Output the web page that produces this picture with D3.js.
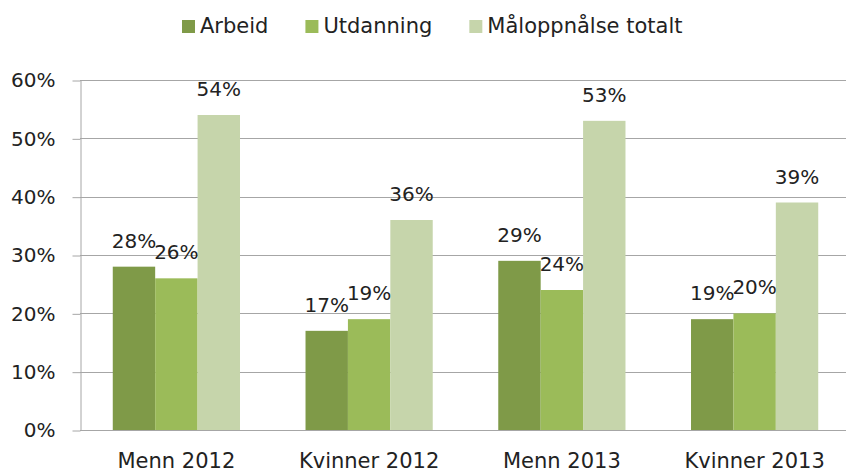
<!DOCTYPE html>
<html lang="no">
<head>
    <meta charset="UTF-8">
    <title>Måloppnålse</title>
    <script src="https://d3js.org/d3.v7.min.js"></script>
    <style>
        body {margin: 0; background: #fff;}
        text {font-family: "DejaVu Sans", sans-serif; fill: #222;}
        .grid line {stroke: #a6a6a6; stroke-width: 1px;}
    </style>
</head>
<body>
<script>
    const width  = 846;
    const height = 474;

    const categories = ["Menn 2012", "Kvinner 2012", "Menn 2013", "Kvinner 2013"];
    const seriesNames = ["Arbeid", "Utdanning", "Måloppnålse totalt"];
    const arbeid = [0.28, 0.17, 0.29, 0.19];
    const utdanning = [0.26, 0.19, 0.24, 0.20];
    const maloppnaelse = [0.54, 0.36, 0.53, 0.39];
    const yTicks = [0, 0.1, 0.2, 0.3, 0.4, 0.5, 0.6];
    const colors = ["#7f9a48", "#9bbb59", "#c6d5ab"];

    const series = [arbeid, utdanning, maloppnaelse];

    const plotLeft = 80, plotRight = 851, plotTop = 80, plotBottom = 430;

    const scaleX = d3.scaleBand()
        .domain(categories)
        .range([plotLeft, plotRight])
        .paddingInner(0.34)
        .paddingOuter(0.17);

    const scaleSub = d3.scaleBand()
        .domain(seriesNames)
        .range([0, scaleX.bandwidth()]);

    const scaleY = d3.scaleLinear()
        .domain([0, 0.6])
        .range([plotBottom, plotTop]);

    const colorScale = d3.scaleOrdinal().domain(seriesNames).range(colors);

    const svg = d3.select("body").append("svg").attr("width", width).attr("height", height);

    // gridlines behind bars
    svg.append("g").attr("class", "grid")
        .selectAll("line").data(yTicks).join("line")
        .attr("x1", plotLeft).attr("x2", plotRight)
        .attr("y1", d => Math.round(scaleY(d)) + 0.5)
        .attr("y2", d => Math.round(scaleY(d)) + 0.5);

    // bars
    const groups = svg.append("g").selectAll("g")
        .data(categories).join("g")
        .attr("transform", d => "translate(" + scaleX(d) + ",0)");

    groups.selectAll("rect")
        .data((c, i) => seriesNames.map((s, j) => ({s: s, v: series[j][i]})))
        .join("rect")
        .attr("x", d => scaleSub(d.s))
        .attr("width", scaleSub.bandwidth())
        .attr("y", d => scaleY(d.v))
        .attr("height", d => scaleY(0) - scaleY(d.v))
        .attr("fill", d => colorScale(d.s));

    groups.selectAll("text.val")
        .data((c, i) => seriesNames.map((s, j) => ({s: s, v: series[j][i]})))
        .join("text")
        .attr("class", "val")
        .attr("x", d => scaleSub(d.s) + scaleSub.bandwidth() / 2)
        .attr("y", d => scaleY(d.v) - 19)
        .attr("text-anchor", "middle")
        .style("font-size", "20px")
        .text(d => d3.format(".0%")(d.v));

    // y axis
    const yAxis = d3.axisLeft(scaleY)
        .tickValues(yTicks)
        .tickFormat(d3.format(".0%"))
        .tickSizeInner(8)
        .tickSizeOuter(0)
        .tickPadding(17);

    const ay = svg.append("g")
        .attr("transform", "translate(" + [plotLeft + 0.5, 0.5] + ")")
        .call(yAxis);
    ay.selectAll("line, path").attr("stroke", "#a6a6a6");
    ay.selectAll("text").style("font-size", "20px").attr("fill", "#222").attr("font-family", null);

    // x axis line
    svg.append("line")
        .attr("x1", plotLeft).attr("x2", plotRight)
        .attr("y1", Math.round(scaleY(0)) + 0.5).attr("y2", Math.round(scaleY(0)) + 0.5)
        .attr("stroke", "#a6a6a6");

    svg.append("g").selectAll("text")
        .data(categories).join("text")
        .attr("x", d => scaleX(d) + scaleX.bandwidth() / 2)
        .attr("y", 468)
        .attr("text-anchor", "middle")
        .style("font-size", "21px")
        .text(d => d);

    // legend
    const legend = svg.append("g");
    let lx = 182;
    seriesNames.forEach(name => {
        legend.append("rect")
            .attr("x", lx).attr("y", 20)
            .attr("width", 13).attr("height", 13)
            .attr("fill", colorScale(name));
        const t = legend.append("text")
            .attr("x", lx + 18).attr("y", 33)
            .style("font-size", "21px")
            .text(name);
        lx += 18 + t.node().getComputedTextLength() + 37;
    });
</script>
</body>
</html>
